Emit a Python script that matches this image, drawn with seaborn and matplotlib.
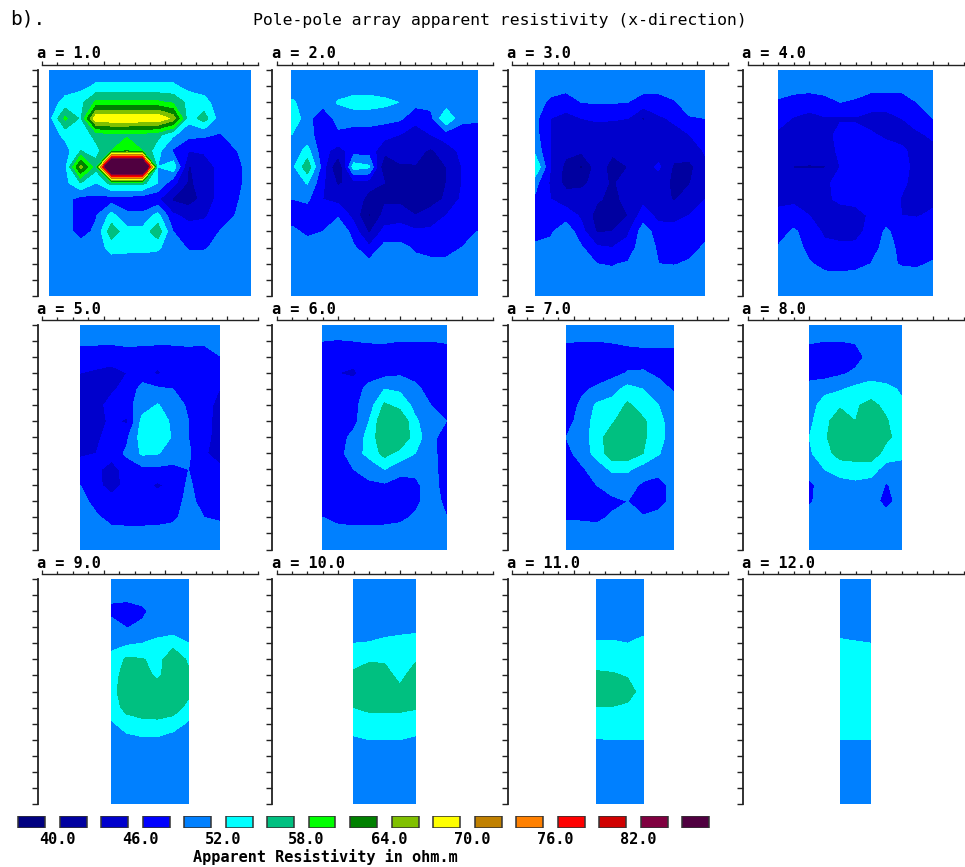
import numpy as np
import pandas as pd
import matplotlib
matplotlib.use("Agg")
import matplotlib.pyplot as plt
import seaborn as sns

TITLE = "Pole-pole array apparent resistivity (x-direction)"
SPACINGS = [1.0, 2.0, 3.0, 4.0, 5.0, 6.0, 7.0, 8.0, 9.0, 10.0, 11.0, 12.0]
LEVELS = [0, 40, 43, 46, 49, 52, 55, 58, 61, 64, 67, 70, 73, 76, 79, 82, 85, 300]
COLORS = ["#000080", "#0000A0", "#0000CC", "#0000FF", "#0080FF", "#00FFFF",
          "#00C080", "#00FF00", "#008000", "#80C000", "#FFFF00", "#C08000",
          "#FF8000", "#FF0000", "#D00000", "#800040", "#500040"]
LEGEND_LABELS = [40.0, 46.0, 52.0, 58.0, 64.0, 70.0, 76.0, 82.0]

A1 = [
 [50,50,50,50,50,50,50,50,50,50,50,50,50,50],
 [50,50.5,51,52.5,52.5,52.5,52.5,52.5,52.5,51,50.5,50,50,50],
 [50.5,53,54,58.5,58.5,58.5,58.5,58.5,57.5,54,53,50.5,50,50],
 [51,58.6,54.5,69.5,69.8,69.8,69.8,69.8,66,53,56.5,50.5,50,50],
 [50,53,53,56,57.5,57.5,57,56,52.5,50,49.5,48.8,50,50],
 [50,50.5,55,54,58,60.5,58,53,48.5,46,46.5,47.5,48.8,50],
 [50,51,65,56,105,105,105,52,54,42.8,44,47,48.5,49.5],
 [50,51,55,52,56,56,56,52,47,42.5,44,47,48.5,49.5],
 [50,50,47.8,48,47.5,47.5,47,46.5,42.5,41.5,44,47,48.6,50],
 [50,50,48,48.8,53,49.5,49.5,53,46.5,45,45.5,47.5,49,50],
 [50,50,48,49.5,57,53,53,57,49,47.5,47.5,49,50,50],
 [50,50,50,50.5,53,53,53,52.5,50,48.8,48.8,49.5,50,50],
 [50,50,50,50,50.5,50,50,50,50,50,50,50,50,50],
 [50,50,50,50,50,50,50,50,50,50,50,50,50,50],
 [50,50,50,50,50,50,50,50,50,50,50,50,50,50],
]
A2 = [
 [50,50,50,50,50,50,50,50,50,50,50,50,50],
 [50,50,50,50,50,50,50,50,50,50,50,50,50],
 [52.5,50.5,50,52.3,53.5,53.5,52.8,51.9,50,50,50,50,50],
 [54.5,50,47,50,50,50,50,49.5,47,48,55,49.5,49.5],
 [52,50,47.5,48.5,48,48,47,46,44.5,46,47.5,48,47.5],
 [50,53,47,44.8,47.5,47.5,44,44.8,44,42.5,44.5,46.7,47.5],
 [51,57,47.5,39.5,53.5,52.5,39.8,42.5,42.8,41,43,46,47.5],
 [50,52.2,46.5,42.5,44.5,44.5,43,41.5,42,41.5,43,46,47.5],
 [49,49.5,46,45,45.5,41.5,42.5,42,41.5,41.5,43.5,46.5,47.5],
 [48,47.5,47,48.5,45,39.5,44,45,43,44.5,46,47.5,48],
 [49.5,48.5,49,52,47.5,42.5,47,47,46.5,46.5,47,47.5,49],
 [50,50,50,50,49.5,46.5,50,50,48.5,47.5,47.5,49,50],
 [50,50,50,50,50,50,50,50,50,50,50,50,50],
 [50,50,50,50,50,50,50,50,50,50,50,50,50],
 [50,50,50,50,50,50,50,50,50,50,50,50,50],
]
A3 = [
 [50,50,50,50,50,50,50,50,50,50,50,50],
 [50,50,50,50,50,50,50,50,50,50,50,50],
 [50,48.5,47.5,49,49.3,49.2,49,47.8,47.8,48.8,50,50],
 [49.8,46,45,46,46.3,46.2,46,42.5,45.5,46.5,48.8,49],
 [50,46,45,45,44.8,44.8,44.8,45,44.8,45,46,47.5],
 [51,46,44,43.5,45,43.5,44.8,44.8,44.5,44.5,44.8,46.2],
 [55,46,42,39.5,44.5,42,43,44.5,46.5,42.5,42,45.5],
 [50,45.5,42,42,44.5,42.5,44.5,44.5,44.5,42.3,42.8,45.7],
 [48.5,46,44.5,45,43.5,42,44,45,44.5,42.7,44.5,46],
 [48,47,47.5,45.5,41.8,42,43,47.5,45,45.3,46,47.5],
 [48.2,48.5,51,47,42.7,43,45.5,50.5,47.5,46.8,47.5,48.5],
 [49.4,50,51,49.3,46.5,46,47,51,48.5,48.3,48.5,49.2],
 [50,50,50,49.8,49,48.8,49.3,50,49,48.9,49.2,50],
 [50,50,50,50,50,50,50,50,50,50,50,50],
 [50,50,50,50,50,50,50,50,50,50,50,50],
]
A4 = [
 [50,50,50,50,50,50,50,50,50,50,50],
 [50,50,50,50,50,50,50,50,50,50,50],
 [48.7,48,47.5,48.2,49,48.7,47.5,47.3,47.5,49,50],
 [47,45.8,45,45.7,45.7,45.7,45,45,46,47.5,49],
 [45.5,45,44.8,45,46.8,46.8,46.3,45.5,45,45.5,46.5],
 [45.2,45,44.5,44.8,46.5,47.3,47.3,47,46.5,45,45.2],
 [45,42.8,42.8,42.8,46,47.5,47.5,47.5,47,45,45],
 [45,45,45,45.5,46.8,47.5,47.5,47.5,46.5,45,45],
 [45.5,45.5,45,45.5,46.5,47,47.5,47.5,45.8,45,45.3],
 [46.5,47,46,45,44.8,44.8,46.5,47.5,46,45.8,46.5],
 [47.5,49.5,47.5,45.5,45,45,47,49.5,47.5,47.5,47.5],
 [49.3,50.5,48,46.7,46.6,46.7,47.8,50,48.2,48,48.2],
 [50,50,49.3,48.2,48,48.3,49,49.5,48.8,48.7,49.2],
 [50,50,50,50,50,50,50,50,50,50,50],
 [50,50,50,50,50,50,50,50,50,50,50],
]
A5 = [
 [50,50,50,50,50,50,50,50,50,50],
 [49.5,49.5,49.5,49.5,49.5,49.5,49.5,49.5,49.5,50],
 [47.5,47.5,47.2,48,47.8,47.3,47.5,48,47.5,48.9],
 [46,45.5,45,46,47.5,45.5,47.5,48,48,47.8],
 [45,45,45.5,47,50,49.5,49,48,47.5,46],
 [45,45,47,48,50.5,52.2,50.5,48.5,47.3,45],
 [45,45,46.5,45.5,53,54.5,51,49,47,45],
 [45,45.5,47,48.5,53.5,54.8,51.5,49,46.8,45],
 [45.5,46,47.5,49.5,52.5,52.2,50.5,49.5,46.3,45],
 [47.5,46.8,44.5,47.5,48.2,48.3,48.3,49,47.5,46.5],
 [49,47,44.5,47,47,45.5,47,49.5,47.5,47.5],
 [50,48,47.5,47.5,47.5,47.5,47.5,50,47.8,48],
 [50,49.5,48,47.8,47.8,48,48.5,50,49,48.7],
 [50,50,50,50,50,50,50,50,50,50],
 [50,50,50,50,50,50,50,50,50,50],
]
A6 = [
 [50,50,50,50,50,50,50,50,50],
 [49,48.9,49,49.2,49.2,49,49,49,49.2],
 [47.5,47,47,47.5,47.8,47.8,48,48,47.8],
 [47,46,45.5,47.5,48,48.5,48.3,48,47.8],
 [47,47,47.5,50,52,51.5,49.5,48.2,48],
 [47,47.2,48.3,50.5,55.5,54,51,49,48],
 [47.5,47.5,48,52,57.7,57.7,52.5,50,49],
 [47.5,47.5,50,53,57.7,57.7,53.5,50,47.5],
 [47.5,48,50.5,53,56,54,52,50,47.5],
 [47.5,47.8,49,50,52,50,49.5,50,47.8],
 [47.5,47.5,47.5,48.5,48.5,47.8,48.5,50,48],
 [48,47.5,47.5,47.5,47.5,47.5,48.5,50,48.5],
 [49,48.2,48,48,48.1,48.5,49.3,50,49.1],
 [50,50,50,50,50,50,50,50,50],
 [50,50,50,50,50,50,50,50,50],
]
A7 = [
 [50,50,50,50,50,50,50,50],
 [49.2,49,49,49.2,49.5,49.8,49.8,49.8],
 [47.5,47.5,47.5,47.5,47.8,47.8,47.8,47.8],
 [47.5,47.5,47.5,48,49.2,49.3,48.5,48],
 [47.5,48.5,49.5,51,53,52,50,48.7],
 [47.5,49.5,52.5,53,55.5,53.5,52,50],
 [47.5,50.5,53,54.5,57.5,55.5,52.8,50.5],
 [49,50.5,53.5,57,57.5,55.5,53,50.5],
 [48,50.3,53,57,57,55,52.2,50],
 [47.5,48.5,50.5,52.5,52.5,50.5,50,50],
 [47.5,47.8,49,50,50,48.5,47.8,50],
 [47.5,47.5,47.8,48.5,49,47.8,47.8,50],
 [48.8,48.7,48.5,49.3,49.5,49.2,50,50],
 [50,50,50,50,50,50,50,50],
 [50,50,50,50,50,50,50,50],
]
A8 = [
 [50,50,50,50,50,50,50],
 [49.2,49,49,49.2,50,50,50],
 [48,47.5,47.8,48,49.9,50,50],
 [48,47.8,48.5,49.5,50,50,50],
 [50,51,51.7,52.8,54,53,51.5],
 [50.5,53.5,54.5,54.8,55.5,54.5,52.5],
 [51.3,54,57,55,57.5,55.2,53.5],
 [52,54.5,57.5,57.5,57.8,55.5,54],
 [51.5,54,56,56,56.5,54,53],
 [50,52,53.5,54,53.5,50.5,50.5],
 [48.5,50,50.5,51,50.5,48.8,50],
 [48.7,50,50,50,50,48.2,50],
 [50,50,50,50,50,50,50],
 [50,50,50,50,50,50,50],
 [50,50,50,50,50,50,50],
]
A9 = [
 [50,50,50,50,50,50],
 [50,50,50,50,50,50],
 [48,47.5,48.5,50,50,50],
 [50.5,48.9,49.5,50,50,50],
 [51,51.5,52,53,54,52],
 [53,55.5,55.2,54,57,54.5],
 [53.5,56.5,56.5,54.2,57.5,55.5],
 [53.8,57,57.5,57.5,57.5,55.8],
 [53.5,56,57,57.5,56.5,54],
 [51.5,53.5,54,54,53.5,51.5],
 [50,51,51.5,51.5,50.5,50],
 [50,50,50,50,50,50],
 [50,50,50,50,50,50],
 [50,50,50,50,50,50],
 [50,50,50,50,50,50],
]
A10 = [
 [50,50,50,50,50],
 [50,50,50,50,50],
 [50,50,50,50,50],
 [50,50,50.5,51,51],
 [52,52.2,52.8,53,53.5],
 [53.5,54.5,54.5,53.5,54.5],
 [55.8,57,56.5,53.8,57],
 [57,57.7,57.7,56,57.7],
 [55,55.5,55.5,55.5,55.2],
 [53.2,53.8,53.8,53.8,53.5],
 [51.6,52,52,52,51.5],
 [50,50,50,50,50],
 [50,50,50,50,50],
 [50,50,50,50,50],
 [50,50,50,50,50],
]
A11 = [
 [50,50,50,50],
 [50,50,50,50],
 [50,50,50,50],
 [50.8,50.8,50.5,51],
 [52.3,52.3,52,52.8],
 [53.8,53.7,53.5,53.8],
 [55.5,55.3,54.8,54],
 [57.7,57.5,56,54],
 [54.8,54.8,54.5,54],
 [53.2,53.2,53.2,53.2],
 [51.9,52,52,52],
 [50,50,50,50],
 [50,50,50,50],
 [50,50,50,50],
 [50,50,50,50],
]
A12 = [
 [50,50,50],
 [50,50,50],
 [50,50,50],
 [51,50.8,50.5],
 [52.4,52.2,52],
 [53.5,53.5,53.5],
 [54,54,54],
 [54.5,54.5,54.5],
 [54,54,54],
 [53,53,53],
 [52,52,52],
 [50,50,50],
 [50,50,50],
 [50,50,50],
 [50,50,50],
]
GRIDS = [A1, A2, A3, A4, A5, A6, A7, A8, A9, A10, A11, A12]

sns.set_theme(style="white", rc={"axes.edgecolor": "#222222", "text.color": "black",
                                 "xtick.color": "#222222", "ytick.color": "#222222"})
MONO = ["DejaVu Sans Mono"]
palette = sns.color_palette(COLORS)

W, H = 965, 867
fig = plt.figure(figsize=(W / 100, H / 100), dpi=100, facecolor="white")


def px_axes(left, top, width, height):
    return fig.add_axes([left / W, 1 - (top + height) / H, width / W, height / H])


COL_LEFT = [42, 276.5, 512, 747.5]
ROW_TOP = [70, 325, 579]
ROW_H = [226, 224.5, 225]
PANEL_W = 216

for k, (a, grid) in enumerate(zip(SPACINGS, GRIDS)):
    r, c = k // 4, k % 4
    ax = px_axes(COL_LEFT[c], ROW_TOP[r], PANEL_W, ROW_H[r])
    z = np.array(grid, dtype=float)
    xs = np.arange(z.shape[1]) + a / 2
    ys = np.arange(z.shape[0])
    ax.contourf(xs, ys, z, levels=LEVELS, colors=palette, antialiased=False)
    ax.set_xlim(0, 14)
    ax.set_ylim(14, 0)
    sns.despine(ax=ax, top=False, right=True, left=False, bottom=True)
    ax.spines["top"].set_position(("outward", 3.6))
    ax.spines["left"].set_position(("outward", 2.9))
    ax.spines["top"].set_linewidth(1.0)
    ax.spines["left"].set_linewidth(1.3)
    ax.xaxis.tick_top()
    ax.set_xticks([0, 4, 8, 12])
    ax.set_xticks([1, 2, 3, 5, 6, 7, 9, 10, 11, 13, 14], minor=True)
    ax.set_yticks(np.arange(15))
    ax.tick_params(axis="x", which="major", direction="out", length=3.2, width=0.9,
                   labeltop=False, top=True, bottom=False)
    ax.tick_params(axis="x", which="minor", direction="out", length=2.0, width=0.9,
                   top=True, bottom=False)
    ax.tick_params(axis="y", which="major", direction="out", length=4.3, width=1.0,
                   labelleft=False, left=True)
    ax.grid(False)
    fig.text((COL_LEFT[c] - 5) / W, 1 - (ROW_TOP[r] - 16) / H, f"a = {a:.1f}",
             family=MONO, weight="bold", fontsize=11, ha="left", va="center")

# colour key
lax = px_axes(10.75, 816, 17 * 41.5, 12)
key = pd.DataFrame({"bin": np.arange(len(COLORS)).astype(str), "v": np.ones(len(COLORS))})
sns.barplot(data=key, x="bin", y="v", hue="bin", palette=COLORS, saturation=1, legend=False,
            width=27 / 41.5, edgecolor="#333333", linewidth=1.1, ax=lax)
lax.set_xlim(-0.5, 16.5)
lax.set_ylim(0, 1)
lax.set_xlabel("")
lax.set_ylabel("")
lax.set_yticks([])
lax.set_xticks([(v - LEVELS[1]) / 3 + 0.62 for v in LEGEND_LABELS])
lax.set_xticklabels([f"{v:.1f}" for v in LEGEND_LABELS], family=MONO, weight="bold", fontsize=11)
lax.tick_params(axis="x", length=0, pad=3, colors="black")
sns.despine(ax=lax, left=True, bottom=True)
lax.patch.set_alpha(0)

fig.text(325 / W, 1 - 857 / H, "Apparent Resistivity in ohm.m", family=MONO, weight="bold",
         fontsize=11, ha="center", va="center")
fig.text(500 / W, 1 - 20 / H, TITLE, family=MONO, fontsize=11.8, ha="center", va="center")
fig.text(10 / W, 1 - 19 / H, "b).", family=MONO, fontsize=14, ha="left", va="center")

fig.savefig("out.png", dpi=100, facecolor="white")
